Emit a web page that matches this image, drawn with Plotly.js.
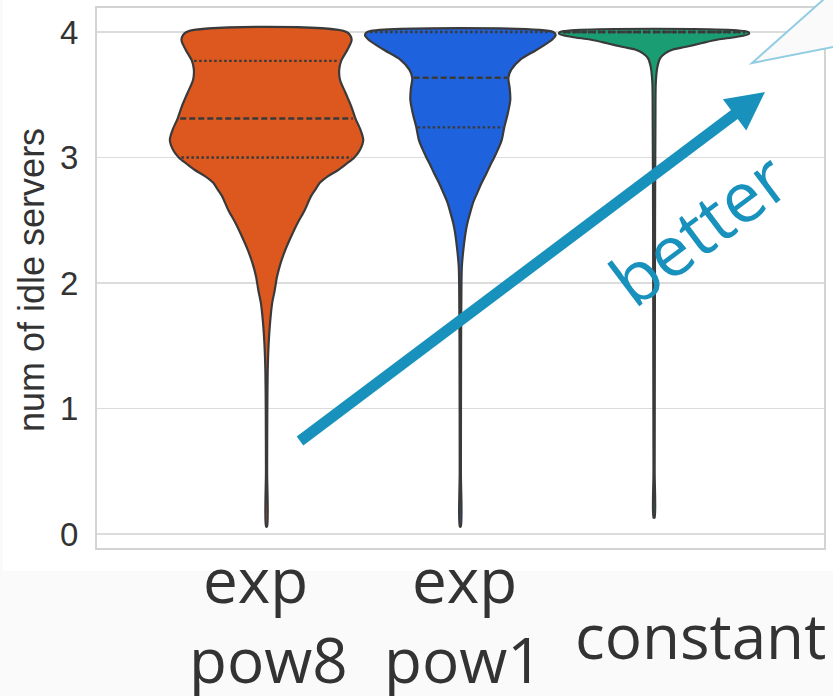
<!DOCTYPE html>
<html><head><meta charset="utf-8">
<script src="https://cdn.plot.ly/plotly-3.0.1.min.js"></script>
<style>html,body{margin:0;padding:0;background:#fafafa;} #chart{width:833px;height:696px;}</style>
</head><body><div id="chart"></div>
<script>
// ---- data ----
const categories = ['exp pow8', 'exp pow1', 'constant'];
const labelLines = [['exp', 'pow8'], ['exp', 'pow1'], ['constant']];
const yTicks = [0, 1, 2, 3, 4];

// density profiles (half-width in category units)
const pow8Levels  = [0.06, 0.5, 1.0, 1.3, 1.52, 1.68, 1.84, 1.94, 2.05, 2.16, 2.26, 2.37, 2.48, 2.58, 2.69, 2.74, 2.80, 2.85, 2.90, 2.95, 3.00, 3.06, 3.14, 3.22, 3.31, 3.40, 3.51, 3.62, 3.70, 3.77, 3.86, 3.94, 4.00];
const pow8Density = [0.0026, 0.003, 0.004, 0.006, 0.011, 0.018, 0.029, 0.042, 0.054, 0.073, 0.096, 0.127, 0.161, 0.197, 0.229, 0.250, 0.276, 0.316, 0.370, 0.413, 0.453, 0.482, 0.499, 0.485, 0.459, 0.439, 0.409, 0.379, 0.375, 0.385, 0.418, 0.439, 0.413];

const pow1Levels  = [0.06, 0.5, 1.5, 2.0, 2.13, 2.24, 2.32, 2.40, 2.48, 2.56, 2.64, 2.72, 2.80, 2.87, 2.94, 3.00, 3.07, 3.14, 3.24, 3.35, 3.46, 3.55, 3.635, 3.70, 3.78, 3.86, 3.94, 3.975, 4.00];
const pow1Density = [0.0026, 0.003, 0.004, 0.006, 0.008, 0.014, 0.020, 0.027, 0.037, 0.051, 0.066, 0.088, 0.111, 0.134, 0.155, 0.175, 0.196, 0.214, 0.227, 0.245, 0.258, 0.255, 0.248, 0.263, 0.310, 0.397, 0.475, 0.492, 0.480];

const constLevels  = [0.13, 0.5, 1.5, 2.5, 3.3, 3.6, 3.72, 3.79, 3.83, 3.86, 3.88, 3.91, 3.94, 3.96, 3.985, 4.00];
const constDensity = [0.0026, 0.003, 0.004, 0.005, 0.007, 0.009, 0.017, 0.031, 0.057, 0.098, 0.160, 0.243, 0.330, 0.423, 0.490, 0.485];

// quartiles: Q1, median, Q3
const pow8Quartiles  = [3.00, 3.31, 3.77];
const pow1Quartiles  = [3.24, 3.635, 4.00];
const constQuartiles = [4.00, 4.00, 4.00];

// ---- styling ----
const fills = ['#DD581F', '#1F62DD', '#1B9D73'];
const edge = '#3a3a3a';
const arrowColor = '#1892BC';

const profiles = [
  [pow8Levels, pow8Density, pow8Quartiles],
  [pow1Levels, pow1Density, pow1Quartiles],
  [constLevels, constDensity, constQuartiles]
];

function interp(levels, dens, y) {
  if (y <= levels[0]) return dens[0];
  for (let k = 1; k < levels.length; k++) {
    if (y <= levels[k]) {
      const t = (y - levels[k - 1]) / (levels[k] - levels[k - 1]);
      return dens[k - 1] + t * (dens[k] - dens[k - 1]);
    }
  }
  return dens[dens.length - 1];
}

const traces = [];
profiles.forEach(([lv, dn, qs], i) => {
  const xs = [], ys = [];
  lv.forEach((y, k) => { xs.push(i + dn[k]); ys.push(y); });
  for (let k = lv.length - 1; k >= 0; k--) { xs.push(i - dn[k]); ys.push(lv[k]); }
  xs.push(xs[0]); ys.push(ys[0]);
  traces.push({
    type: 'scatter', mode: 'lines', x: xs, y: ys, fill: 'toself',
    fillcolor: fills[i], line: {color: edge, width: 2.2, shape: 'spline', smoothing: 0.8},
    hoverinfo: 'skip', showlegend: false
  });
  qs.forEach((q, j) => {
    const w = interp(lv, dn, q) * 0.97;
    traces.push({
      type: 'scatter', mode: 'lines', x: [i - w, i + w], y: [q, q],
      line: {color: edge, width: 2.4, dash: j === 1 ? '6px,3px' : '2.5px,2.5px'},
      hoverinfo: 'skip', showlegend: false
    });
  });
});

// pixel -> paper helpers for decorations
const L = 97, T = 8, W = 727, H = 540;
const px = x => (x - L) / W;
const py = y => (T + H - y) / H;
const pt = (x, y) => px(x).toFixed(4) + ',' + py(y).toFixed(4);

const shapes = [
  {type: 'rect', xref: 'paper', yref: 'paper', x0: px(3), x1: px(900), y0: py(571), y1: py(-20),
   fillcolor: '#ffffff', line: {width: 0}, layer: 'below'},
  {type: 'line', xref: 'paper', yref: 'paper', x0: px(300), y0: py(441), x1: px(739), y1: py(111),
   line: {color: arrowColor, width: 11}, layer: 'above'},
  {type: 'path', xref: 'paper', yref: 'paper',
   path: 'M' + pt(765, 92) + 'L' + pt(722.9, 99.2) + 'L' + pt(746.3, 130.4) + 'Z',
   fillcolor: arrowColor, line: {width: 0}, layer: 'above'},
  {type: 'path', xref: 'paper', yref: 'paper',
   path: 'M' + pt(845.5, -20) + 'L' + pt(752, 63) + 'L' + pt(853, 43) + 'L' + pt(870, -20) + 'Z',
   fillcolor: '#fafafa', line: {color: '#93cde3', width: 2}, layer: 'above'}
];

const labelFont = {family: 'Open Sans', size: 62, color: '#333333'};
const labelPos = [[[255, 579], [268, 659]], [[464, 579], [463, 659]], [[700, 635]]];
const annotations = [];
labelLines.forEach((lines, i) => {
  lines.forEach((txt, j) => {
    annotations.push({xref: 'paper', yref: 'paper', x: px(labelPos[i][j][0]), y: py(labelPos[i][j][1]),
      text: txt, showarrow: false, xanchor: 'center', yanchor: 'middle', font: labelFont});
  });
});
annotations.push({xref: 'paper', yref: 'paper', x: px(31), y: py(280), text: 'num of idle servers',
  textangle: -90, showarrow: false, xanchor: 'center', yanchor: 'middle',
  font: {family: 'Liberation Sans, Arial, sans-serif', size: 36, color: '#333333'}});
annotations.push({xref: 'paper', yref: 'paper', x: px(698), y: py(228), text: 'better',
  textangle: -37, showarrow: false, xanchor: 'center', yanchor: 'middle',
  font: {family: 'Open Sans', size: 70, color: arrowColor}});

const layout = {
  width: 833, height: 696,
  margin: {l: L, r: 833 - L - W, t: T, b: 696 - T - H},
  paper_bgcolor: '#fafafa', plot_bgcolor: '#ffffff',
  showlegend: false,
  xaxis: {range: [-0.875, 2.877], showgrid: false, zeroline: false, showticklabels: false,
    showline: true, mirror: true, linecolor: '#d3d3d3', linewidth: 2, ticks: '',
    tickvals: [0, 1, 2], ticktext: categories},
  yaxis: {range: [-0.1116, 4.191], tickvals: yTicks, ticktext: yTicks.map(String), ticks: '',
    showgrid: true, gridcolor: '#dcdcdc', gridwidth: 1.6, zeroline: false,
    showline: true, mirror: true, linecolor: '#d3d3d3', linewidth: 2,
    ticklabelstandoff: 10,
    tickfont: {family: 'Liberation Sans, Arial, sans-serif', size: 33, color: '#333333'}},
  shapes: shapes,
  annotations: annotations
};

Plotly.newPlot('chart', traces, layout, {displayModeBar: false, staticPlot: true});
</script>
</body></html>
